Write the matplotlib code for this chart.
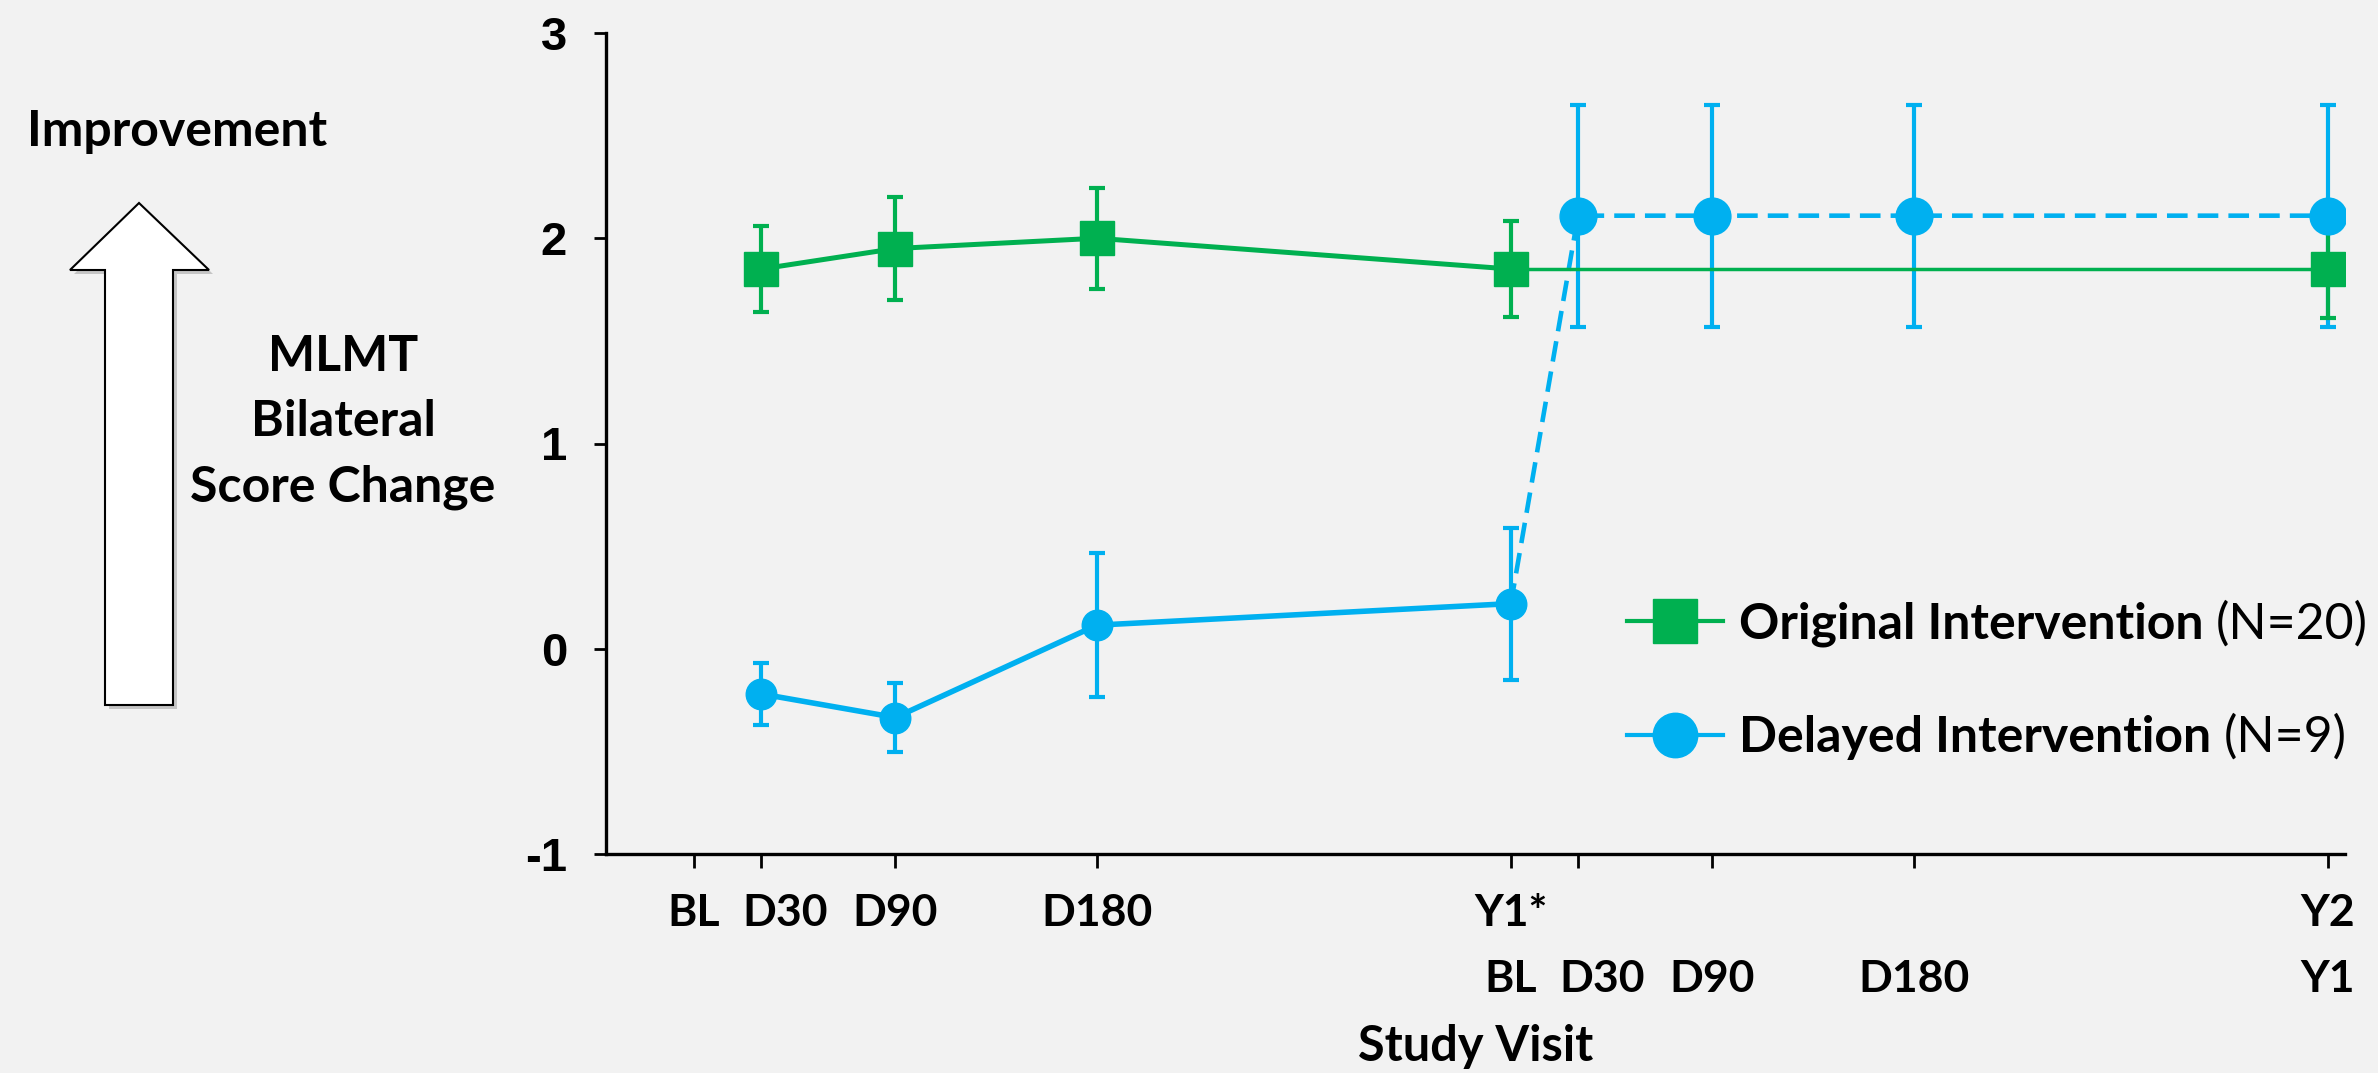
import matplotlib
matplotlib.use("Agg")
import matplotlib.pyplot as plt
import matplotlib.transforms as mtransforms
from matplotlib.lines import Line2D
from matplotlib.patches import Polygon

plt.rcParams['font.family'] = ['Lato', 'DejaVu Sans']

GREEN = '#00b050'
BLUE = '#00b0f0'
BG = '#f2f2f2'
W, H = 2378, 1073

# study visit in days from baseline
orig_days = [30, 90, 180, 365, 730]
orig_score = [1.85, 1.95, 2.00, 1.85, 1.85]
orig_err = [0.21, 0.25, 0.245, 0.235, 0.24]

delay_days = [30, 90, 180, 365]
delay_score = [-0.22, -0.335, 0.115, 0.22]
delay_err = [0.15, 0.17, 0.35, 0.37]

# delayed group after crossing over to intervention
cross_days = [395, 455, 545, 730]
cross_score = [2.11, 2.11, 2.11, 2.11]
cross_err = [0.54, 0.54, 0.54, 0.54]

tick_days = [0, 30, 90, 180, 365, 395, 455, 545, 730]
tick_row1 = ['BL', 'D30', 'D90', 'D180', 'Y1*', '', '', '', 'Y2']
tick_row2 = ['', '', '', '', 'BL', 'D30', 'D90', 'D180', 'Y1']

legend_names = ['Original Intervention', 'Delayed Intervention']
legend_n = ['(N=20)', '(N=9)']

fig = plt.figure(figsize=(W / 100, H / 100), dpi=100, facecolor=BG)
ax = fig.add_axes([606 / W, 1 - 854 / H, (2345 - 606) / W, (854 - 33) / H])
ax.set_facecolor(BG)

# original intervention
ax.plot(orig_days[:4], orig_score[:4], color=GREEN, lw=3.6, zorder=3)
ax.plot(orig_days[3:], orig_score[3:], color=GREEN, lw=2.5, zorder=3)
ax.errorbar(orig_days, orig_score, yerr=orig_err, fmt='s', ms=24, color=GREEN,
            elinewidth=3, capsize=6, capthick=3, zorder=3)

# delayed intervention
ax.plot(delay_days, delay_score, color=BLUE, lw=4, zorder=2)
ax.errorbar(delay_days, delay_score, yerr=delay_err, fmt='o', ms=22, color=BLUE,
            elinewidth=3, capsize=6, capthick=3, zorder=2)
ax.plot([delay_days[-1]] + cross_days, [delay_score[-1]] + cross_score, color=BLUE,
        lw=3.3, ls=(0, (4.5, 2.2)), zorder=2)
ax.errorbar(cross_days, cross_score, yerr=cross_err, fmt='none', ecolor=BLUE,
            elinewidth=3, capsize=6, capthick=3, zorder=2)
ax.plot(cross_days, cross_score, 'o', ms=26.5, color=BLUE, zorder=4)

ax.set_xlim(-39.3, 737.7)
ax.set_ylim(-1, 3)
for s in ['top', 'right']:
    ax.spines[s].set_visible(False)
for s in ['left', 'bottom']:
    ax.spines[s].set_linewidth(2.4)

ax.set_yticks([-1, 0, 1, 2, 3])
ax.set_yticklabels(['-1', '0', '1', '2', '3'], family='Liberation Sans',
                   fontweight='bold', fontsize=34)
ax.tick_params(axis='y', length=9, width=2, pad=19)

ax.set_xticks(tick_days)
ax.set_xticklabels([f'{a}\n{b}' for a, b in zip(tick_row1, tick_row2)],
                   fontweight='bold', fontsize=32, linespacing=1.79)
ax.tick_params(axis='x', length=10, width=2, pad=18)
# the D30 labels sit a little right of their ticks in the original
for i in (1, 5):
    lbl = ax.get_xticklabels()[i]
    lbl.set_transform(lbl.get_transform() +
                      mtransforms.ScaledTranslation(0.24, 0, fig.dpi_scale_trans))
ax.set_xlabel('Study Visit', fontweight='bold', fontsize=35, labelpad=18)

# left annotation with the big arrow
fig.text(177 / W, 1 - 131 / H, 'Improvement', ha='center', va='center',
         fontsize=36, fontweight='bold')
fig.text(343 / W, 1 - 422 / H, 'MLMT\nBilateral\nScore Change', ha='center',
         va='center', multialignment='center', fontsize=36, fontweight='bold',
         linespacing=1.54)

arrow_px = [(139, 203), (209, 270), (173, 270), (173, 705), (105, 705),
            (105, 270), (70, 270)]
shadow = Polygon([((x + 4) / W, 1 - (y + 4) / H) for x, y in arrow_px],
                 closed=True, transform=fig.transFigure, facecolor='#9a9a9a',
                 edgecolor='none', alpha=0.5)
arrow = Polygon([(x / W, 1 - y / H) for x, y in arrow_px], closed=True,
                transform=fig.transFigure, facecolor='white', edgecolor='black',
                lw=1.5)
fig.patches.extend([shadow, arrow])

handles = [Line2D([], [], color=GREEN, lw=3, marker='s', ms=31),
           Line2D([], [], color=BLUE, lw=3, marker='o', ms=32)]
leg = ax.legend(handles, legend_names, loc='center left',
                bbox_to_anchor=(1627 / W, 1 - 681 / H), bbox_transform=fig.transFigure,
                frameon=False, prop={'family': 'Lato', 'weight': 'bold', 'size': 36},
                handlelength=1.92, handletextpad=0.32, labelspacing=1.36,
                borderpad=0, borderaxespad=0)
for txt, n in zip(leg.get_texts(), legend_n):
    ax.annotate(n, xy=(1, 0), xycoords=txt, xytext=(9, 0), textcoords='offset points',
                va='bottom', ha='left', fontsize=36, zorder=6)

fig.savefig('out.png', dpi=100, facecolor=BG)
